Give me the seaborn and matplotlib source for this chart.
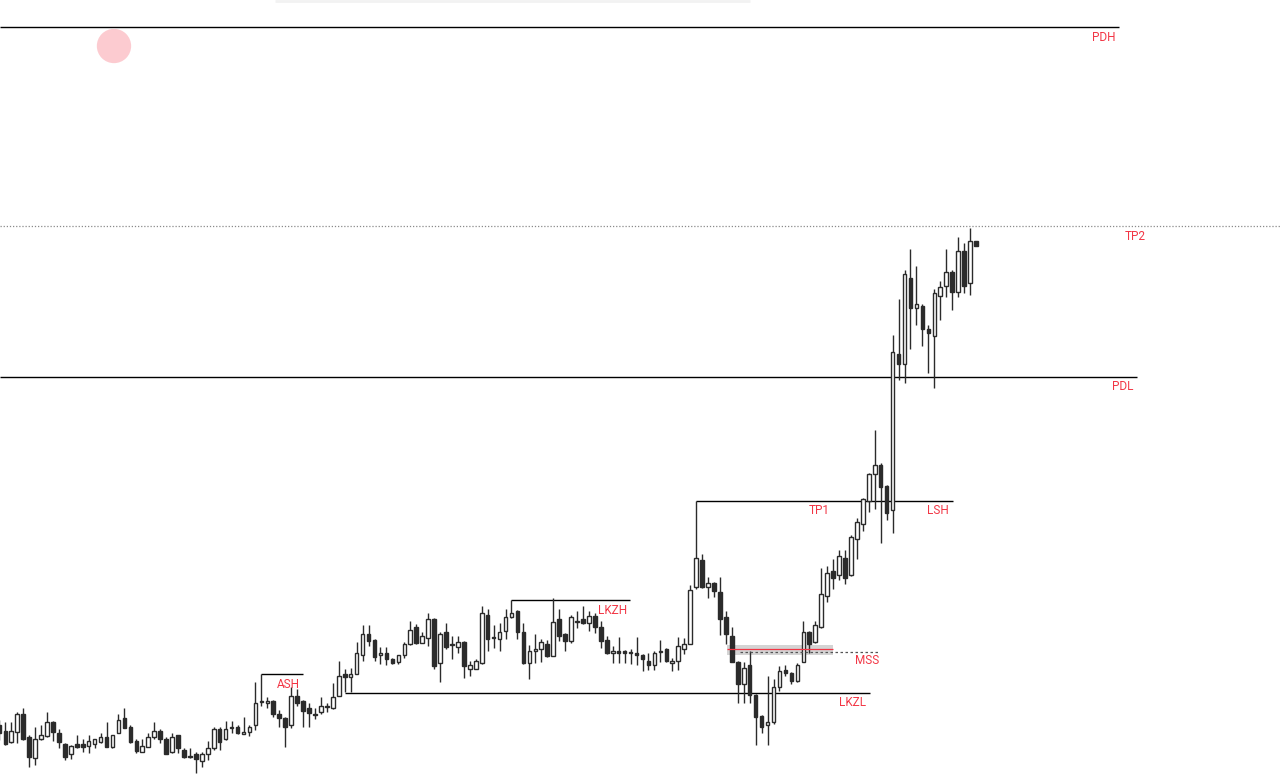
import numpy as np
import pandas as pd
import matplotlib
matplotlib.use("Agg")
import matplotlib.pyplot as plt
import seaborn as sns
from matplotlib.patches import Rectangle

# ---- candle data (arbitrary price units) ----
opens = [75,69,58,68,86,63,42,61,64,78,
         67,56,46,56,56,54,56,58,63,53,
         67,82,73,59,48,53,63,69,61,48,
         65,50,44,46,39,46,52,71,61,72,
         73,66,68,75,98,97,99,86,82,75,
         104,99,92,86,88,93,92,104,126,123,
         126,145,166,160,145,147,141,138,145,156,
         173,157,162,181,137,168,156,153,158,131,
         131,137,185,163,161,169,183,189,168,137,
         149,151,156,144,181,166,159,178,181,177,
         184,173,160,147,149,149,147,147,145,139,
         135,148,151,137,139,151,156,213,240,213,
         217,208,183,164,138,116,135,105,84,75,
         78,113,130,127,119,138,168,158,173,204,
         229,225,242,225,261,276,299,326,335,314,
         290,446,436,522,492,494,471,464,504,514,
         528,508,549,517,559]
highs = [80,78,78,88,92,65,73,75,88,79,
         71,57,55,65,61,65,61,67,78,65,
         86,92,75,61,61,67,78,71,63,67,
         65,52,52,48,48,59,73,73,79,79,
         75,83,75,118,126,103,100,90,83,113,
         111,100,97,92,103,97,117,139,131,132,
         158,175,175,161,153,153,142,145,158,179,
         176,168,187,182,168,177,164,164,159,139,
         141,194,191,175,177,191,200,190,177,155,
         166,161,160,202,191,167,185,189,194,189,
         187,179,164,154,163,150,151,163,146,147,
         149,160,152,142,163,162,215,299,246,223,
         218,223,189,173,139,138,149,106,85,124,
         121,134,135,128,137,179,169,179,232,234,
         241,250,250,265,282,302,327,370,337,315,
         465,501,530,551,534,496,475,511,519,551,
         530,563,557,572,559]
lows = [60,55,57,57,60,33,35,60,63,59,
        52,40,41,52,48,47,52,57,53,52,
        67,72,57,47,48,53,61,57,46,47,
        47,42,42,27,33,40,50,50,60,67,
        66,66,64,70,94,92,83,73,53,72,
        94,73,73,81,86,88,91,104,108,108,
        126,139,154,139,136,135,136,136,142,155,
        156,157,154,131,118,151,141,147,122,124,
        131,136,149,152,149,161,182,161,136,121,
        137,138,143,144,159,149,157,172,176,169,
        167,152,146,137,137,137,136,135,129,130,
        130,138,138,129,130,146,156,211,212,202,
        203,165,156,138,97,97,97,55,67,55,
        76,109,124,116,118,138,147,157,172,198,
        211,220,216,224,241,269,288,291,257,280,
        267,420,417,451,475,454,427,412,480,503,
        490,503,507,505,554]
closes = [67,56,69,86,61,43,61,65,78,68,
          58,43,54,53,53,59,61,63,53,65,
          80,72,58,49,54,63,69,61,46,63,
          52,43,43,41,46,52,71,58,71,73,
          67,68,73,97,99,99,86,82,73,104,
          97,89,87,85,94,94,103,124,123,126,
          147,166,159,143,147,141,137,145,156,170,
          157,164,181,134,166,153,155,158,134,135,
          139,187,161,162,168,183,187,168,137,149,
          151,158,144,178,164,159,183,179,177,184,
          173,159,147,149,147,147,148,145,141,135,
          147,149,139,139,154,156,210,242,213,217,
          209,181,166,138,116,132,105,83,73,78,
          113,129,127,119,135,168,156,175,206,227,
          222,244,222,263,278,301,326,335,313,287,
          448,436,526,492,496,471,467,507,513,528,
          508,549,514,559,554]

# ---- levels ----
level_names = ["PDH", "PDL", "LSH", "LKZH", "LKZL", "ASH"]
level_prices = [773, 423, 299, 200, 107, 126]
level_start = [None, None, 117, 86, 58, 44]
level_end = [188.0, 191.0, 160.1, 105.9, 146.2, 51.0]
tp2_price = 574
mss_zone = (145.5, 155)
mss_line = 150.7
mss_dash = 148.5

label_texts = ["PDH", "TP2", "PDL", "TP1", "LSH", "LKZH", "ASH", "MSS", "LKZL"]
label_x = [185.5, 190.7, 188.7, 137.6, 157.6, 103.0, 48.6, 145.7, 143.2]
label_y = [763, 564, 414, 289, 289, 190, 116, 139, 97]

df = pd.DataFrame({"open": opens, "high": highs, "low": lows, "close": closes})
df["idx"] = np.arange(len(df))
df["bull"] = df["close"] >= df["open"]

sns.set_theme(style="white")
plt.rcParams['font.family'] = ['Roboto', 'DejaVu Sans']

fig = plt.figure(figsize=(12.8, 7.78), dpi=100)
ax = fig.add_axes([0, 0, 1, 1])
ax.set_facecolor("white")

XMIN, XMAX = 0.109, 215.05
ax.set_xlim(XMIN, XMAX)
ax.set_ylim(22, 800)

dark = "#2b2b2b"
# wicks
ax.vlines(df["idx"], df["low"], df["high"], color=dark, lw=1.0, zorder=2)
# bodies
w = 0.6
for _, r in df.iterrows():
    lo = min(r["open"], r["close"])
    h = max(abs(r["close"] - r["open"]), 0.8)
    fc = "white" if r["bull"] else dark
    ax.add_patch(Rectangle((r["idx"] - w / 2, lo), w, h, facecolor=fc,
                           edgecolor=dark, lw=1.0, zorder=3))

# level lines
for name, p, s, e in zip(level_names, level_prices, level_start, level_end):
    xs = XMIN if s is None else s
    ax.hlines(p, xs, e, color="black", lw=1.0, zorder=1)

# TP2 dotted
ax.hlines(tp2_price, XMIN, XMAX, color="#8a8a8a", lw=0.9,
          linestyles=(0, (1, 1.5)), zorder=1)

# MSS zone
ax.add_patch(Rectangle((122.2, mss_zone[0]), 140.0 - 122.2, mss_zone[1] - mss_zone[0],
                       facecolor="#d4d4d4", edgecolor="none", zorder=1))
ax.hlines(mss_line, 122.2, 140.0, color="#f23645", lw=0.9, zorder=4)
ax.hlines(mss_dash, 124.4, 147.9, color="#555555", lw=0.9,
          linestyles=(0, (2, 2)), zorder=4)

# faint toolbar shadow at top
ax.hlines(799.3, 46.3, 126.1, color="#f2f2f2", lw=2.0, zorder=1)

# pink circle
ax.scatter([19.25], [754], s=610, color="#fccbd0", edgecolors="none", zorder=5)

# labels
for t, x, y in zip(label_texts, label_x, label_y):
    ax.text(x, y, t, color="#f23645", fontsize=8.5, ha="center", va="center",
            zorder=6)

ax.axis("off")
fig.savefig("out.png", dpi=100, facecolor="white")
